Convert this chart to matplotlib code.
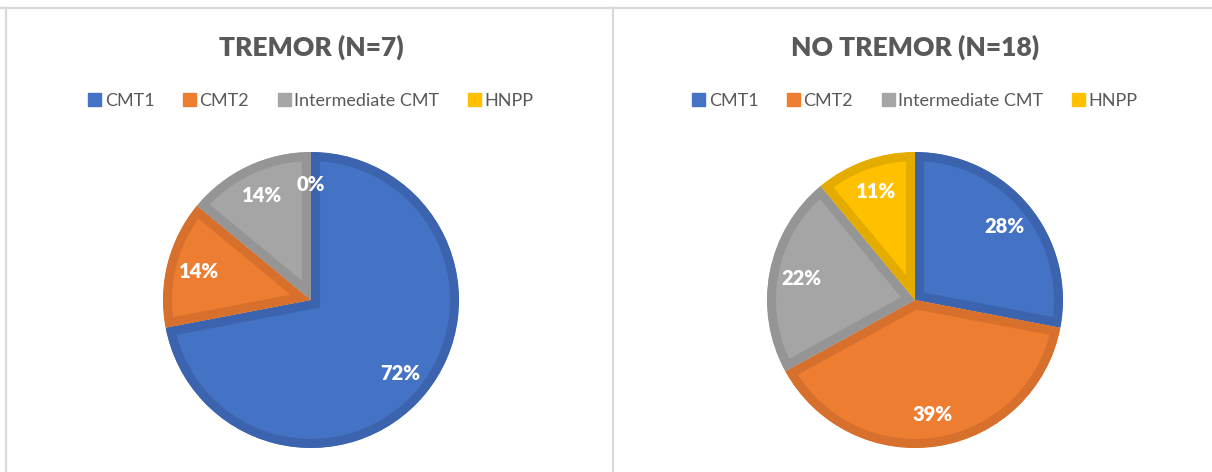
"""
Two pie charts: CMT subtype distribution with / without tremor
"""

import matplotlib
matplotlib.use("Agg")
import matplotlib.pyplot as plt
from matplotlib.patches import Patch
from matplotlib.lines import Line2D

plt.rcParams['font.family'] = ['Lato', 'DejaVu Sans']

categories = ["CMT1", "CMT2", "Intermediate CMT", "HNPP"]
titles = ["TREMOR (N=7)", "NO TREMOR (N=18)"]
tremor_values = [72, 14, 14, 0]
no_tremor_values = [28, 39, 22, 11]

fill_colors = ["#4472C4", "#ED7D31", "#A5A5A5", "#FFC000"]
edge_colors = ["#3C64AE", "#D6702C", "#959595", "#E5AC00"]
text_color = "#595959"

W, H = 1212, 472
fig = plt.figure(figsize=(W / 100, H / 100), dpi=100)

# panel borders (top line, left line, separator)
border = "#D9D9D9"
fig.add_artist(Line2D([0, 1], [1 - 8 / H, 1 - 8 / H], color=border, lw=1.6, transform=fig.transFigure))
fig.add_artist(Line2D([6 / W, 6 / W], [0, 1 - 8 / H], color=border, lw=1.6, transform=fig.transFigure))
fig.add_artist(Line2D([612.5 / W, 612.5 / W], [0, 1 - 8 / H], color=border, lw=1.6, transform=fig.transFigure))

panel_centers = [311, 915]
radius_px = 148
pie_center_y = 300

for values, title, cx in zip([tremor_values, no_tremor_values], titles, panel_centers):
    ax = fig.add_axes([(cx - radius_px) / W, (H - pie_center_y - radius_px) / H,
                       2 * radius_px / W, 2 * radius_px / H])
    wedges, texts, autotexts = ax.pie(
        values, colors=fill_colors, startangle=90, counterclock=False,
        autopct=lambda p: f"{p:.0f}%", pctdistance=0.78, radius=1.0,
        textprops=dict(color="white", fontsize=14.5, fontweight="heavy"),
    )
    # darker border drawn inside each wedge (stroke clipped to the wedge itself)
    for w, ec, v in zip(wedges, edge_colors, values):
        w.set_edgecolor(ec)
        w.set_linewidth(13 if v > 0 else 0)
        w.set_clip_path(w)
        w.set_clip_on(True)
    ax.set_xlim(-1, 1)
    ax.set_ylim(-1, 1)
    ax.axis("off")

    fig.text(cx / W, 1 - 47 / H, title, ha="center", va="center",
             fontsize=19, fontweight="heavy", color=text_color)

    handles = [Patch(facecolor=c, edgecolor=c) for c in fill_colors]
    fig.legend(handles, categories, loc="center", bbox_to_anchor=(cx / W, 1 - 101 / H),
               ncol=4, frameon=False, fontsize=13, labelcolor=text_color,
               handlelength=0.7, handleheight=0.7, handletextpad=0.2,
               columnspacing=1.6)

fig.savefig("out.png", dpi=100, facecolor="white")
